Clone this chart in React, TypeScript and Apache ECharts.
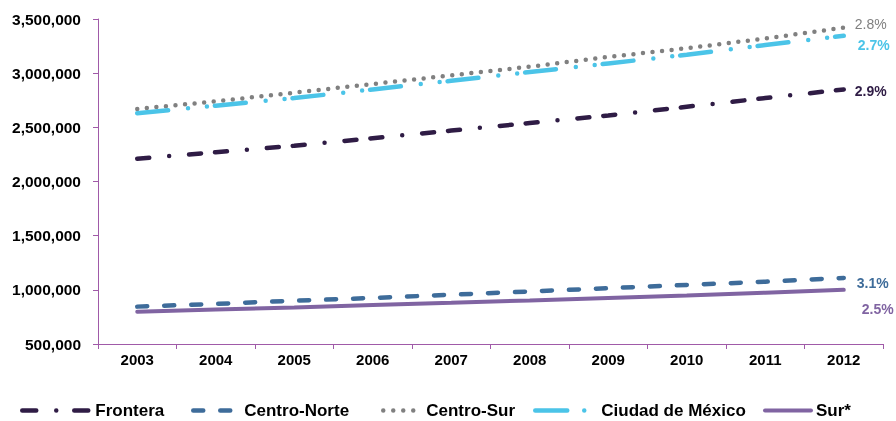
import React, { useEffect, useRef } from "react";
import * as echarts from "echarts";

const years = ["2003", "2004", "2005", "2006", "2007", "2008", "2009", "2010", "2011", "2012"];
const frontera = [2210000, 2270000, 2330000, 2400000, 2470000, 2540000, 2610000, 2690000, 2770000, 2850000];
const centroNorte = [845000, 870000, 900000, 925000, 955000, 985000, 1015000, 1045000, 1075000, 1110000];
const centroSur = [2670000, 2740000, 2820000, 2900000, 2980000, 3060000, 3150000, 3230000, 3320000, 3420000];
const cdmx = [2630000, 2700000, 2770000, 2850000, 2930000, 3010000, 3090000, 3170000, 3260000, 3345000];
const sur = [798000, 818000, 838000, 860000, 880000, 902000, 925000, 948000, 973000, 1000000];
const growthLabels = ["2.9%", "3.1%", "2.8%", "2.7%", "2.5%"];
const seriesNames = ["Frontera", "Centro-Norte", "Centro-Sur", "Ciudad de México", "Sur*"];

const FONT = "'Liberation Sans', Arial, sans-serif";
const AXIS = "#a05aa8";

function fmt(v: number) {
  return String(v).replace(/\B(?=(\d{3})+(?!\d))/g, ",");
}

export default function App() {
  const ref = useRef<HTMLDivElement>(null);
  useEffect(() => {
    const chart = echarts.init(ref.current!, null, { renderer: "svg" });
    const colors = ["#2f1c45", "#3e6c9a", "#808080", "#4bc4e8", "#8064a2"];
    const dataSets = [frontera, centroNorte, centroSur, cdmx, sur];
    const dashes: any[] = [
      [12, 14, 12, 20, 0, 20],
      [10, 17],
      [0, 9.6],
      [31, 20, 0, 19, 0, 8],
      "solid",
    ];
    const dashOffsets = [26, 0, 0, 0, 0];
    const widths = [4.5, 4.5, 4.5, 4.5, 4];
    const labelOffsets = [
      [3, 2],
      [5, 5],
      [3, -4],
      [6, 9],
      [10, 19],
    ];
    const labelWeights = ["bold", "bold", "normal", "bold", "bold"];
    const legendLeft = [20, 191, 381, 533, 763];
    const legendWidth = [68, 46, 38, 61, 46];
    const legendDash: any[] = [
      [14, 20, 0, 18, 14, 200],
      [10, 17],
      [0, 10],
      [32, 17, 0, 200],
      "solid",
    ];

    chart.setOption({
      animation: false,
      textStyle: { fontFamily: FONT },
      grid: { left: 98, right: 13, top: 19, bottom: 77, containLabel: false },
      xAxis: {
        type: "category",
        data: years,
        boundaryGap: true,
        axisLine: { lineStyle: { color: AXIS, width: 1 } },
        axisTick: { show: true, length: 5, lineStyle: { color: AXIS } },
        axisLabel: { color: "#000", fontWeight: "bold", fontSize: 15, fontFamily: FONT, margin: 8 },
        splitLine: { show: false },
      },
      yAxis: {
        type: "value",
        min: 500000,
        max: 3500000,
        interval: 500000,
        axisLine: { show: true, lineStyle: { color: AXIS, width: 1 } },
        axisTick: { show: true, length: 5, lineStyle: { color: AXIS } },
        axisLabel: {
          color: "#000",
          fontWeight: "bold",
          fontSize: 15.5,
          fontFamily: FONT,
          margin: 17,
          formatter: (v: number) => fmt(v),
        },
        splitLine: { show: false },
      },
      legend: seriesNames.map((n, i) => ({
        data: [n],
        left: legendLeft[i],
        top: 402,
        padding: 0,
        itemWidth: legendWidth[i],
        itemHeight: 14,
        lineStyle: {
          type: legendDash[i],
          dashOffset: 0,
          cap: "round",
          width: widths[i],
          color: colors[i],
        },
        itemStyle: { opacity: 0 },
        textStyle: { fontFamily: FONT, fontWeight: "bold", fontSize: 17, color: "#000" },
      })),
      series: seriesNames.map((n, i) => ({
        name: n,
        type: "line",
        data: dataSets[i],
        symbol: "none",
        showSymbol: false,
        color: colors[i],
        lineStyle: {
          color: colors[i],
          width: widths[i],
          type: dashes[i],
          dashOffset: dashOffsets[i],
          cap: "round",
        },
        endLabel: {
          show: true,
          formatter: growthLabels[i],
          color: colors[i],
          fontSize: 14,
          fontWeight: labelWeights[i],
          fontFamily: FONT,
          offset: labelOffsets[i],
        },
      })),
    });
    return () => chart.dispose();
  }, []);
  return (
    <div
      ref={ref}
      style={{ position: "fixed", left: 0, top: 0, width: 896, height: 421 }}
    />
  );
}
